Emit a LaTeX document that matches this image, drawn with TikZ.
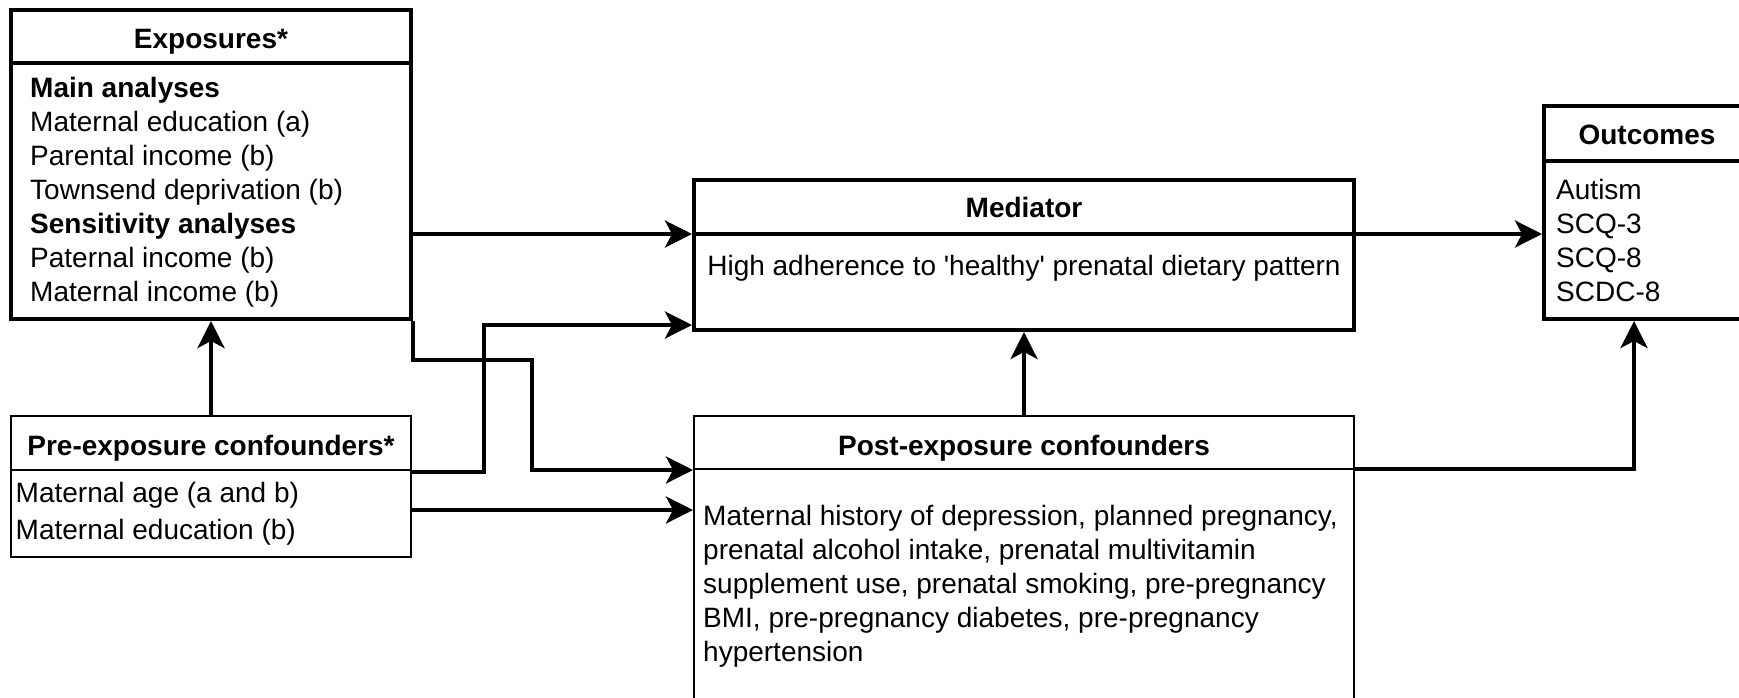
\documentclass[tikz,border=0pt]{standalone}
\usepackage{fontspec}
\setmainfont{Liberation Sans}[Ligatures=TeXOff]
\usetikzlibrary{arrows.meta,calc}
\begin{document}
\begin{tikzpicture}[x=1pt,y=-1pt,
  heavybox/.style={draw, line width=4pt, rectangle, inner sep=0pt},
  lightbox/.style={draw, line width=2pt, rectangle, inner sep=0pt},
  heavyrule/.style={line width=4pt},
  lightrule/.style={line width=2pt},
  conn/.style={line width=4pt, -{Stealth[length=27pt,width=27pt,inset=7pt]}},
  ttl/.style={font=\bfseries\fontsize{28}{34}\selectfont, inner sep=0pt, anchor=base},
  body/.style={font=\fontsize{28}{34}\selectfont, align=left, anchor=north west, inner sep=0pt},
]
\useasboundingbox (0,0) rectangle (1739,697);
\fill[white] (0,0) rectangle (1739,697);
\clip (0,0) rectangle (1739,697);

% boxes
\node[heavybox, minimum width=400pt, minimum height=309pt] (exp) at (211,164.5) {};
\node[lightbox, minimum width=400pt, minimum height=141pt] (pre) at (211,486.5) {};
\node[heavybox, minimum width=660pt, minimum height=150pt] (med) at (1024,255) {};
\node[lightbox, minimum width=660pt, minimum height=344pt] (post) at (1024,588) {};
\node[heavybox, minimum width=216pt, minimum height=213pt] (out) at (1652,212.5) {};

% header dividers
\coordinate (exphdr) at (0,63);
\coordinate (prehdr) at (0,470);
\coordinate (medhdr) at (0,234);
\coordinate (posthdr) at (0,469);
\coordinate (outhdr) at (0,161);
\draw[heavyrule] (exp.west |- exphdr) -- (exp.east |- exphdr);
\draw[lightrule] (pre.west |- prehdr) -- (pre.east |- prehdr);
\draw[heavyrule] (med.west |- medhdr) -- (med.east |- medhdr);
\draw[lightrule] (post.west |- posthdr) -- (post.east |- posthdr);
\draw[heavyrule] (out.west |- outhdr) -- (out.east |- outhdr);

% titles
\node[ttl] (expttl) at (211,48) {Exposures*};
\node[ttl] (prettl) at (211,455) {Pre-exposure confounders*};
\node[ttl] (medttl) at (1024,217) {Mediator};
\node[ttl] (postttl) at (1024,455) {Post-exposure confounders};
\node[ttl] (outttl) at (1647,144) {Outcomes};

% contents
\node[body] (exptxt) at (30,71.5) {\rule{0pt}{26pt}\textbf{Main analyses}\\
  Maternal education (a)\\Parental income (b)\\Townsend deprivation (b)\\
  \textbf{Sensitivity analyses}\\Paternal income (b)\\Maternal income (b)};
\node[body, font=\fontsize{28}{37}\selectfont] (pretxt) at (15.5,476) {\rule{0pt}{26pt}Maternal age (a and b)\\Maternal education (b)};
\node[ttl, font=\fontsize{28}{34}\selectfont] (medtxt) at (1024,275) {High adherence to 'healthy' prenatal dietary pattern};
\node[body] (posttxt) at (703,499) {\rule{0pt}{26pt}Maternal history of depression, planned pregnancy,\\
  prenatal alcohol intake, prenatal multivitamin\\supplement use, prenatal smoking, pre-pregnancy\\
  BMI, pre-pregnancy diabetes, pre-pregnancy\\hypertension};
\node[body, font=\fontsize{28}{34}\selectfont] (outtxt) at (1556,173.5) {\rule{0pt}{26pt}Autism\\SCQ-3\\SCQ-8\\SCDC-8};

% connectors
\draw[conn] (exp.east |- medhdr) -- (med.west |- medhdr);
\draw[conn] (med.east |- medhdr) -- (out.west |- medhdr);
\draw[conn] (pre.north) -- (exp.south);
\draw[conn] (pre.east |- 0,472) -| (483.5,325) -- (med.west |- 0,325);
\draw[conn] (exp.south east) |- (532,360) |- (post.west |- prehdr);
\draw[conn] (pre.east |- 0,510) -- (post.west |- 0,510);
\draw[conn] (post.north) -- (med.south);
\draw[conn] (post.east |- posthdr) -| ($(out.south west)+(92,0)$);
\end{tikzpicture}
\end{document}
